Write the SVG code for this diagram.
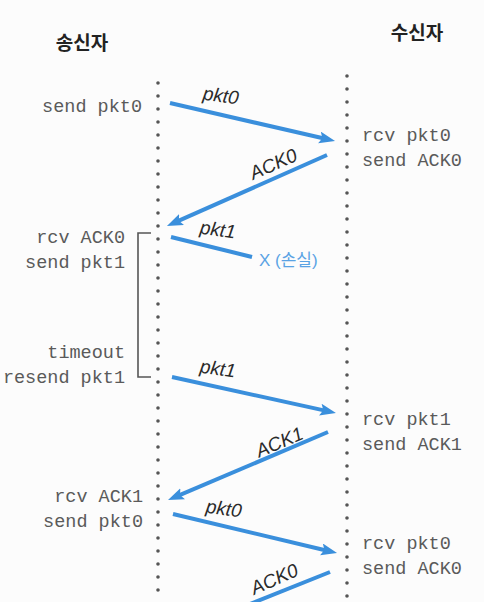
<svg xmlns="http://www.w3.org/2000/svg" width="484" height="602" viewBox="0 0 484 602">
<style>
.title{font-family:"Noto Sans CJK KR","Noto Sans",sans-serif;font-weight:bold;font-size:19px;fill:#222;text-anchor:middle}
.mono{font-family:"Liberation Mono","DejaVu Sans Mono",monospace;font-size:18.5px;fill:#5a5a5a}
.r{text-anchor:end}
.lbl{font-family:"Liberation Sans",Arial,sans-serif;font-style:italic;font-size:19px;fill:#2a2a2a;text-anchor:middle}
.life{stroke:#555;stroke-width:3.6;stroke-linecap:round;stroke-dasharray:0 13;fill:none}
.msg{stroke:#3a8fdc;stroke-width:4;fill:none}
.lost{font-family:"Liberation Sans","Noto Sans CJK KR",sans-serif;font-size:17px;fill:#5aa3e4}
</style>
<defs>
<marker id="ah" markerUnits="userSpaceOnUse" markerWidth="18" markerHeight="14" refX="6" refY="6" orient="auto">
<path d="M0,0 L16,6 L0,12 L3,6 z" fill="#3a8fdc"/>
</marker>
</defs>
<rect width="484" height="602" fill="#fcfcfc"/>
<g id="sender">
<text class="title" x="82" y="50">송신자</text>
<line class="life" x1="158" y1="83" x2="158" y2="602"/>
</g>
<g id="receiver">
<text class="title" x="417" y="40">수신자</text>
<line class="life" x1="347" y1="76" x2="347" y2="602"/>
</g>
<g id="s-events">
<text class="mono r" x="142" y="112">send pkt0</text>
<text class="mono r" x="125" y="243">rcv ACK0</text>
<text class="mono r" x="125" y="268">send pkt1</text>
<text class="mono r" x="125" y="358">timeout</text>
<text class="mono r" x="125" y="383">resend pkt1</text>
<text class="mono r" x="143" y="502">rcv ACK1</text>
<text class="mono r" x="143" y="527">send pkt0</text>
</g>
<g id="timer-bracket">
<path d="M151,233 H138 V377 H151" fill="none" stroke="#555" stroke-width="1.6"/>
</g>
<g id="r-events">
<text class="mono" x="362" y="141">rcv pkt0</text>
<text class="mono" x="362" y="166">send ACK0</text>
<text class="mono" x="362" y="425">rcv pkt1</text>
<text class="mono" x="362" y="450">send ACK1</text>
<text class="mono" x="362" y="549">rcv pkt0</text>
<text class="mono" x="362" y="574">send ACK0</text>
</g>
<g id="connectors">
<line class="msg" x1="170" y1="103" x2="325.3" y2="138.8" marker-end="url(#ah)"/>
<line class="msg" x1="327" y1="155" x2="176.1" y2="221.9" marker-end="url(#ah)"/>
<line class="msg" x1="171" y1="237" x2="252" y2="257"/>
<line class="msg" x1="172" y1="377" x2="326.2" y2="410.9" marker-end="url(#ah)"/>
<line class="msg" x1="328" y1="432" x2="177.2" y2="496.1" marker-end="url(#ah)"/>
<line class="msg" x1="173" y1="514" x2="327.3" y2="550.7" marker-end="url(#ah)"/>
<line class="msg" x1="330" y1="572" x2="240" y2="608"/>
</g>
<g id="labels">
<text class="lbl" transform="translate(220,102) rotate(8)">pkt0</text>
<text class="lbl" transform="translate(276,170) rotate(-24)">ACK0</text>
<text class="lbl" transform="translate(217,236) rotate(8)">pkt1</text>
<text class="lbl" transform="translate(217,375) rotate(8)">pkt1</text>
<text class="lbl" transform="translate(282,448) rotate(-23)">ACK1</text>
<text class="lbl" transform="translate(223,515) rotate(8)">pkt0</text>
<text class="lbl" transform="translate(277,585) rotate(-24)">ACK0</text>
<text class="lost" x="259" y="266">X (손실)</text>
</g>
</svg>
